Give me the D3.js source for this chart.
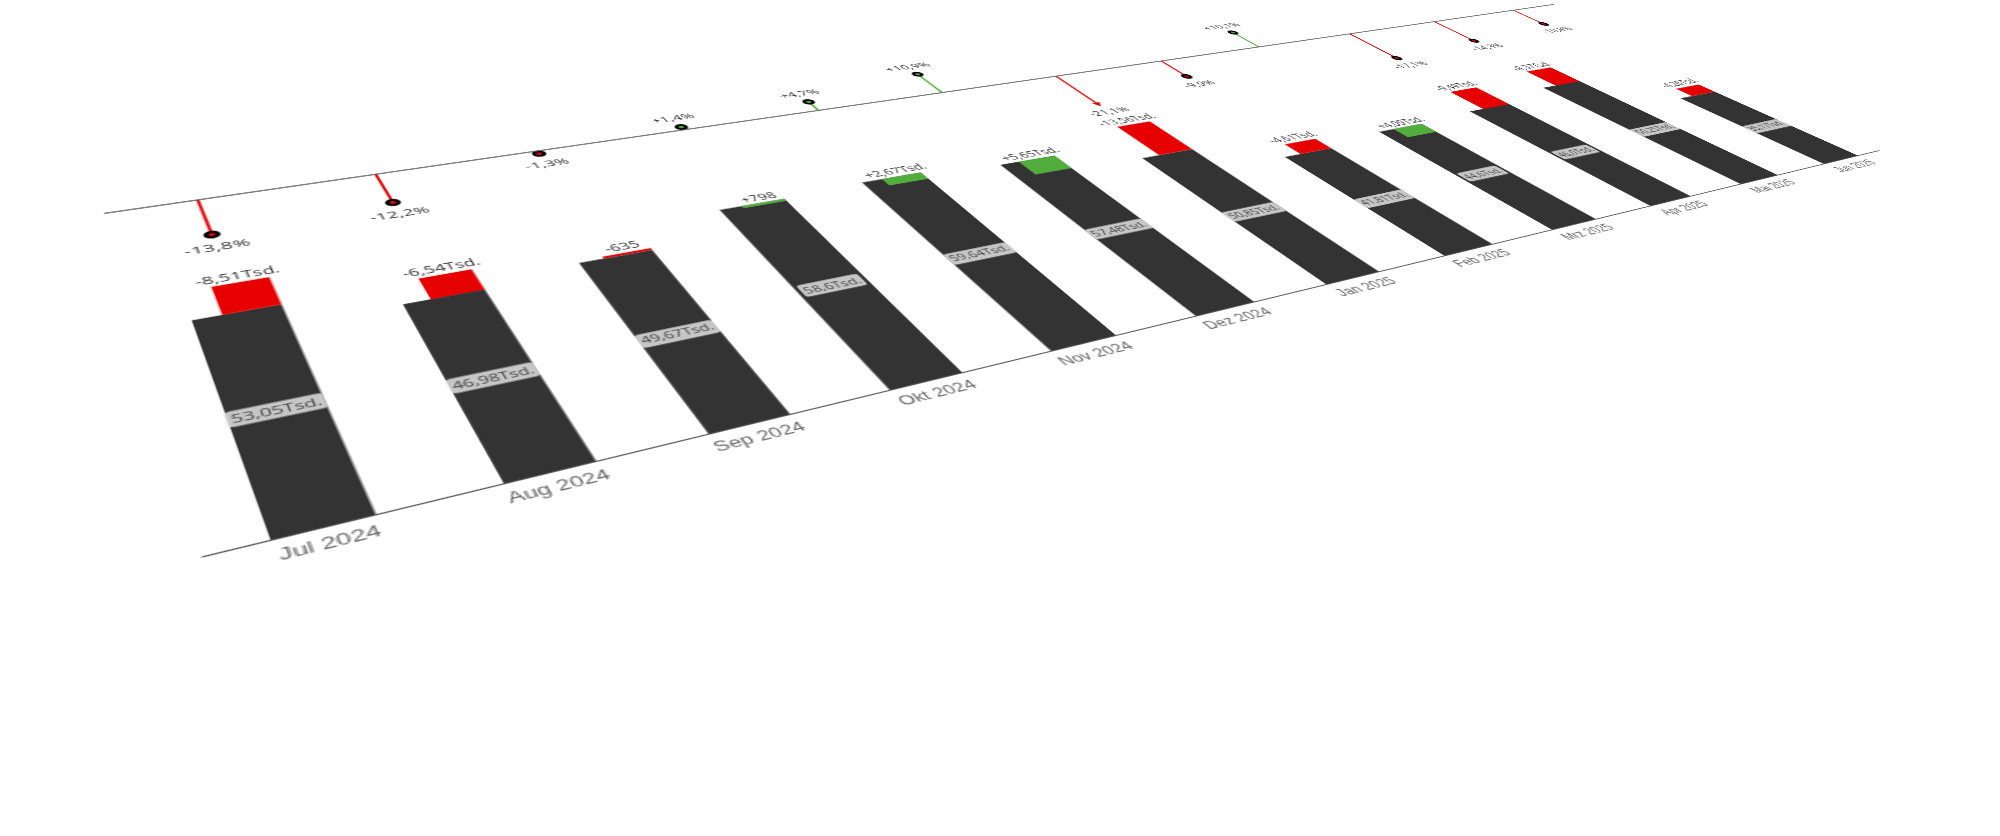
<!DOCTYPE html>
<html><head><meta charset="utf-8">
<script src="https://cdnjs.cloudflare.com/ajax/libs/d3/7.8.5/d3.min.js"></script>
<style>
html,body{margin:0;padding:0;background:#fff;width:2000px;height:836px;overflow:hidden}
#chart{position:absolute;left:0;top:0;transform-origin:0 0;overflow:visible;font-family:"Open Sans",sans-serif;filter:blur(0.4px)}
</style></head><body>
<svg id="chart"></svg>
<script>
const months=["Jul 2024","Aug 2024","Sep 2024","Okt 2024","Nov 2024","Dez 2024","Jan 2025","Feb 2025","Mrz 2025","Apr 2025","Mai 2025","Jun 2025"];
const actual=[53050,46980,49670,58600,59640,57480,50850,41810,44600,46000,50250,35170];
const delta=[-8510,-6540,-635,798,2670,5650,-13560,-4610,4090,-9490,-8370,-4260];
const deltaPct=[-13.8,-12.2,-1.3,1.4,4.7,10.9,-21.1,-9.9,10.1,-17.1,-14.3,-10.8];
const pctClip=-17.6;
const RED="#e60000",GREEN="#52ae3c",DARK="#333333";

const W=1392,H=488;
const x=d3.scaleBand().domain(months).range([0,W]).paddingInner(.565).paddingOuter(.275);
const y=d3.scaleLinear().domain([-10,112]).range([H,0]);     // value in thousands
const yPct=d3.scaleLinear().domain([-20,20]).range([y(72),y(108)]);
const svg=d3.select("#chart").attr("width",W).attr("height",H);

const tsd=v=>{const a=Math.abs(v);
  if(a<1000) return String(a);
  return (a/1000).toFixed(2).replace(/0$/,"").replace(".",",")+"Tsd.";};
const sgn=v=>v<0?"-":"+";
const pctTxt=v=>sgn(v)+Math.abs(v).toFixed(1).replace(".",",")+"%";

const cw=x.bandwidth();
svg.append("g").selectAll("rect").data(months).join("rect")
 .attr("x",m=>x(m)).attr("width",cw)
 .attr("y",(m,i)=>y(actual[i]/1000)).attr("height",(m,i)=>y(0)-y(actual[i]/1000)).attr("fill",DARK);
svg.append("g").selectAll("rect").data(months).join("rect")
 .attr("x",m=>x(m)+cw/3).attr("width",cw*2/3)
 .attr("y",(m,i)=>y(Math.max(actual[i],actual[i]-delta[i])/1000))
 .attr("height",(m,i)=>Math.abs(y(actual[i]/1000)-y((actual[i]-delta[i])/1000)))
 .attr("fill",(m,i)=>delta[i]<0?RED:GREEN);
svg.append("g").selectAll("text").data(months).join("text")
 .attr("x",m=>x(m)+cw*2/3)
 .attr("y",(m,i)=>y(Math.max(actual[i],actual[i]-delta[i])/1000)-4)
 .attr("text-anchor","middle").attr("font-size",11.7).attr("fill","#333")
 .text((m,i)=>sgn(delta[i])+tsd(delta[i]));
const pills=svg.append("g").selectAll("g").data(months).join("g")
 .attr("transform",(m,i)=>`translate(${x(m)+cw/2},${y(actual[i]/2000)})`);
pills.append("text").attr("text-anchor","middle").attr("dy","0.35em").attr("font-size",10.6).attr("fill","#444")
 .text((m,i)=>tsd(actual[i]));
pills.insert("rect","text").each(function(){
  const l=this.parentNode.querySelector("text").getComputedTextLength()+4;
  d3.select(this).attr("x",-l/2).attr("width",l).attr("y",-7.5).attr("height",15).attr("rx",2.5).attr("fill","#c6c6c6");
});
const ax=svg.append("g").attr("transform",`translate(0,${y(0)})`).call(d3.axisBottom(x).tickSize(0).tickPadding(8));
ax.selectAll("text").attr("font-size",12.8).attr("font-family","inherit").attr("fill","#666");
ax.select(".domain").attr("stroke","#555").attr("stroke-width",1.2);

const pctY=v=>yPct(Math.max(v,pctClip));
const top0=yPct(0);
const lolShift=3.5;
const lol=svg.append("g").selectAll("g").data(months).join("g").attr("transform",m=>`translate(${x(m)+cw/2+lolShift},0)`);
lol.append("line").attr("y1",top0).attr("y2",(m,i)=>pctY(deltaPct[i]))
 .attr("stroke",(m,i)=>deltaPct[i]<0?RED:GREEN).attr("stroke-width",2);
lol.filter(m=>deltaPct[months.indexOf(m)]>=pctClip).append("circle")
 .attr("cy",m=>pctY(deltaPct[months.indexOf(m)])).attr("r",3.6)
 .attr("fill",m=>deltaPct[months.indexOf(m)]<0?RED:GREEN).attr("stroke","#000").attr("stroke-width",3);
lol.filter(m=>deltaPct[months.indexOf(m)]<pctClip).append("path")
 .attr("d",m=>{const e=pctY(deltaPct[months.indexOf(m)]);return `M-4,${e-6}L4,${e-6}L0,${e+1}Z`;}).attr("fill",RED);
lol.append("text").attr("text-anchor","middle").attr("font-size",12.5).attr("fill","#333")
 .attr("y",(m,i)=>pctY(deltaPct[i])+(deltaPct[i]<0?(deltaPct[i]<pctClip?17:21):-12))
 .text((m,i)=>pctTxt(deltaPct[i]));
svg.append("line").attr("x1",4).attr("x2",W+9).attr("y1",top0).attr("y2",top0).attr("stroke","#555").attr("stroke-width",1.3);

function homography(src,dst){
  const A=[];
  src.forEach(([sx,sy],i)=>{const [dx,dy]=dst[i];
    A.push([sx,sy,1,0,0,0,-dx*sx,-dx*sy,dx]);
    A.push([0,0,0,sx,sy,1,-dy*sx,-dy*sy,dy]);});
  for(let c=0;c<8;c++){
    let p=c;for(let r=c+1;r<8;r++) if(Math.abs(A[r][c])>Math.abs(A[p][c])) p=r;
    [A[c],A[p]]=[A[p],A[c]];
    for(let r=0;r<8;r++){ if(r===c) continue; const f=A[r][c]/A[c][c]; for(let k=c;k<9;k++) A[r][k]-=f*A[c][k]; }
  }
  return A.map((row,i)=>row[8]/row[i]);
}
const frame=[[0,y(0)],[W,y(0)],[0,top0],[W,top0]];
const view=[[200.5,556.7],[1878.4,150.3],[97.3,214.4],[1548,5.2]];
const h=homography(frame,view);
document.getElementById("chart").style.transform=
 `matrix3d(${h[0]},${h[3]},0,${h[6]},${h[1]},${h[4]},0,${h[7]},0,0,1,0,${h[2]},${h[5]},0,1)`;
</script></body></html>
